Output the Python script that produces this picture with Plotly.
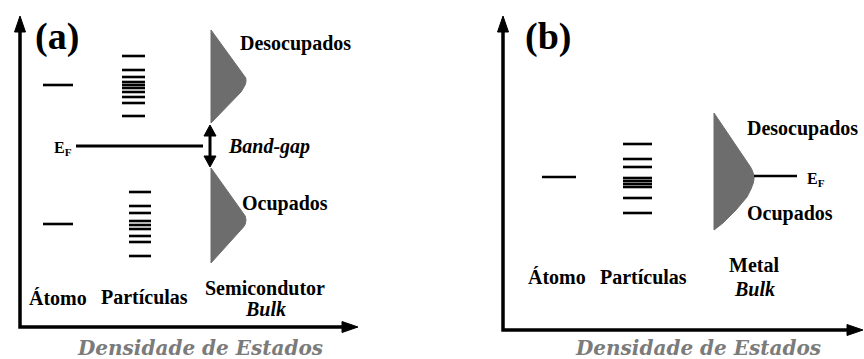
import plotly.graph_objects as go

# ---------------------------------------------------------------------------
# Energy-level schematic: density of states for atom, particles and bulk.
# Vertical coordinate = energy (arbitrary units, increasing upward),
# horizontal coordinate = position along the density-of-states axis.
# ---------------------------------------------------------------------------

# Panel (a): semiconductor
atom_a = [274, 135]
particles_a_upper = [303, 289, 282, 277, 274, 271, 267, 262, 256, 243]
particles_a_lower = [167, 153, 146, 138, 134, 130, 123, 117, 103]
fermi_a = 213
gap_a = [234, 192]                                  # band-gap arrow limits
cb_energy = [329, 287, 284, 281, 278, 275, 272, 267, 236]   # empty band
cb_dos = [0, 31, 33.5, 34.8, 35, 34.5, 33, 30, 0]
vb_energy = [191, 149, 146, 143, 139, 135, 132, 96]         # filled band
vb_dos = [0, 30, 32.5, 34.2, 35, 34.3, 32.5, 0]

# Panel (b): metal
atom_b = [182]
particles_b = [215, 200, 192, 181, 178, 175, 172, 161, 146]
fermi_b = 183
metal_energy = [246, 196, 192, 188, 184, 180, 176, 170, 162, 149, 136, 129]
metal_dos = [0, 34, 36.5, 38.5, 39.8, 40, 39.3, 37, 33, 22, 9, 0]

labels_a = ["Átomo", "Partículas", "Semicondutor"]
labels_b = ["Átomo", "Partículas", "Metal"]
x_title = "Densidade de Estados"

# ---------------------------------------------------------------------------
W, H = 864, 359
INK = "black"
BAND = "#6d6d6d"
SERIF = "Times New Roman, Liberation Serif, serif"
TITLE_FONT = "DejaVu Serif, Georgia, serif"

fig = go.Figure()


def segments(levels, x0, x1):
    xs, ys = [], []
    for e in levels:
        xs += [x0, x1, None]
        ys += [e, e, None]
    return xs, ys


def add_lines(levels, x0, x1, width=2.6):
    xs, ys = segments(levels, x0, x1)
    fig.add_trace(go.Scatter(x=xs, y=ys, mode="lines",
                             line=dict(color=INK, width=width),
                             hoverinfo="skip", showlegend=False))


def add_band(energy, dos, x_left, color=BAND):
    xs = [x_left + d for d in dos] + [x_left, x_left]
    ys = list(energy) + [energy[-1], energy[0]]
    fig.add_trace(go.Scatter(x=xs, y=ys, mode="lines", fill="toself",
                             fillcolor=color, line=dict(color=color, width=1),
                             hoverinfo="skip", showlegend=False))


def add_head(tx, ty, direction, length=14, half=5.5):
    # filled triangular arrowhead with its tip at (tx, ty)
    if direction == "up":
        xs = [tx, tx - half, tx + half, tx]
        ys = [ty, ty - length, ty - length, ty]
    elif direction == "down":
        xs = [tx, tx - half, tx + half, tx]
        ys = [ty, ty + length, ty + length, ty]
    else:  # right
        xs = [tx, tx - length, tx - length, tx]
        ys = [ty, ty + half, ty - half, ty]
    fig.add_trace(go.Scatter(x=xs, y=ys, mode="lines", fill="toself",
                             fillcolor=INK, line=dict(color=INK, width=1),
                             hoverinfo="skip", showlegend=False))


def add_frame(x0, y0, top, right):
    fig.add_trace(go.Scatter(x=[x0, x0, right - 10], y=[top - 10, y0, y0],
                             mode="lines", line=dict(color=INK, width=3.5),
                             hoverinfo="skip", showlegend=False))
    add_head(x0, top, "up", length=16, half=5.5)
    add_head(right, y0, "right", length=16, half=5.5)


def text(x, y, s, size=20, color=INK, family=SERIF, **kw):
    fig.add_annotation(x=x, y=y, text=s, showarrow=False,
                       font=dict(family=family, size=size, color=color),
                       xanchor="center", yanchor="middle", **kw)


# ---------------- panel (a) ----------------
add_frame(20, 32, 343, 358)
add_lines(atom_a, 43, 73)
add_lines(particles_a_upper, 122, 145)
add_lines(particles_a_lower, 129, 151)
add_lines([fermi_a], 76, 203, width=3.2)
add_band(cb_energy, cb_dos, 211)
add_band(vb_energy, vb_dos, 211)

# band-gap double arrow
fig.add_trace(go.Scatter(x=[210, 210], y=[gap_a[0] - 8, gap_a[1] + 8], mode="lines",
                         line=dict(color=INK, width=3), hoverinfo="skip",
                         showlegend=False))
add_head(210, gap_a[0], "up", length=11, half=6)
add_head(210, gap_a[1], "down", length=11, half=6)

text(57, 323, "<b>(a)</b>", size=38)
text(63, 211, "<b>E<sub>F</sub></b>", size=16)
text(295, 316, "<b>Desocupados</b>", size=20)
text(269, fermi_a, "<b><i>Band-gap</i></b>", size=20)
text(285, 156, "<b>Ocupados</b>", size=20)
text(58, 61, f"<b>{labels_a[0]}</b>", size=20)
text(144, 62, f"<b>{labels_a[1]}</b>", size=20)
text(265, 71, f"<b>{labels_a[2]}</b>", size=20)
text(265, 50, "<b><i>Bulk</i></b>", size=20)
text(200, 11.5, f"<b><i>{x_title}</i></b>", size=20, color="#7b7b7b",
     family=TITLE_FONT)

# ---------------- panel (b) ----------------
add_frame(503, 29, 343, 863)
add_lines(atom_b, 542, 576)
add_lines(particles_b, 623, 652)
add_band(metal_energy, metal_dos, 714)
add_lines([fermi_b], 754, 797, width=2.6)

text(548, 323, "<b>(b)</b>", size=38)
text(816, 180, "<b>E<sub>F</sub></b>", size=16)
text(802, 231, "<b>Desocupados</b>", size=20)
text(790, 146, "<b>Ocupados</b>", size=20)
text(557, 82, f"<b>{labels_b[0]}</b>", size=20)
text(643, 82, f"<b>{labels_b[1]}</b>", size=20)
text(754, 94, f"<b>{labels_b[2]}</b>", size=20)
text(754, 70, "<b><i>Bulk</i></b>", size=20)
text(698, 11.5, f"<b><i>{x_title}</i></b>", size=20, color="#7b7b7b",
     family=TITLE_FONT)

fig.update_layout(
    width=W, height=H, autosize=False,
    margin=dict(l=0, r=0, t=0, b=0),
    paper_bgcolor="white", plot_bgcolor="white",
    xaxis=dict(range=[0, W], visible=False, fixedrange=True),
    yaxis=dict(range=[0, H], visible=False, fixedrange=True),
    showlegend=False,
)

fig.write_html("out.html")
